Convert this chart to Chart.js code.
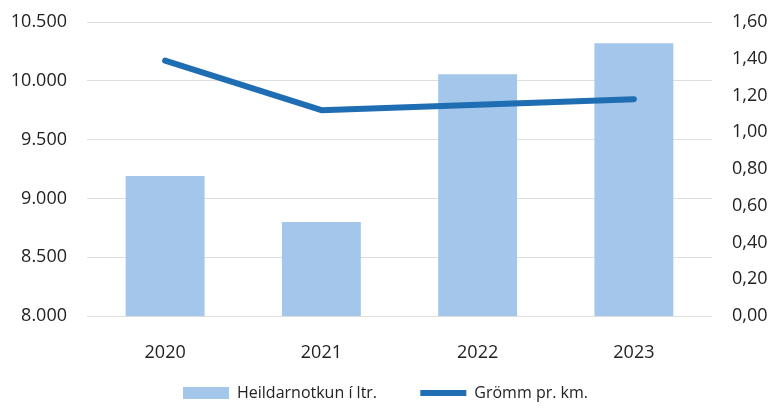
<!DOCTYPE html>
<html>
<head>
<meta charset="utf-8">
<script src="https://cdn.jsdelivr.net/npm/chart.js@4"></script>
<style>
  html, body { margin: 0; padding: 0; background: #fff; }
  #wrap { width: 771px; height: 411px; }
</style>
</head>
<body>
<div id="wrap"><canvas id="chart"></canvas></div>
<script>
// Data
const years = ['2020', '2021', '2022', '2023'];
const totalLitres = [9190, 8800, 10055, 10320];   // Heildarnotkun í ltr. (left axis)
const gramsPerKm = [1.39, 1.12, 1.15, 1.18];       // Grömm pr. km. (right axis)
const barLabel = 'Heildarnotkun í ltr.';
const lineLabel = 'Grömm pr. km.';

const fmtLeft = v => v.toLocaleString('de-DE');
const fmtRight = v => v.toFixed(2).replace('.', ',');

Chart.defaults.font.family = "'Open Sans', 'Noto Sans', sans-serif";
Chart.defaults.color = '#222';

// fix the axis sizes so the plot area sits where it does in the picture
const fitSide = w => scale => {
    scale.width = w;
    scale.paddingTop = 10;
    scale.paddingBottom = 10;
};

const defaultLabels = Chart.defaults.plugins.legend.labels.generateLabels;

new Chart(document.getElementById('chart').getContext('2d'), {
    data: {
        labels: years,
        datasets: [
            {
                type: 'line',
                label: lineLabel,
                data: gramsPerKm,
                yAxisID: 'y2',
                borderColor: '#1f6db3',
                backgroundColor: '#1f6db3',
                borderWidth: 6,
                borderCapStyle: 'round',
                borderJoinStyle: 'round',
                pointRadius: 0,
                tension: 0,
                pointStyle: 'line',
                order: 0
            },
            {
                type: 'bar',
                label: barLabel,
                data: totalLitres,
                yAxisID: 'y',
                backgroundColor: '#a3c6ea',
                borderWidth: 0,
                categoryPercentage: 1,
                barPercentage: 0.505,
                pointStyle: 'rect',
                order: 1
            }
        ]
    },
    options: {
        responsive: true,
        maintainAspectRatio: false,
        animation: false,
        layout: { padding: { left: 0, right: 0, top: 22, bottom: 0 } },
        scales: {
            x: {
                grid: { display: false, drawTicks: false },
                border: { display: false },
                ticks: { font: { size: 18 }, padding: 26, color: '#222' },
                afterFit: s => { s.height = 59; s.paddingLeft = 0; s.paddingRight = 0; }
            },
            y: {
                position: 'left',
                min: 8000,
                max: 10500,
                z: 1,
                border: { display: false },
                grid: { color: 'rgba(0, 0, 0, 0.13)', lineWidth: 1, drawTicks: false },
                ticks: {
                    stepSize: 500,
                    font: { size: 18 },
                    padding: 20,
                    color: '#222',
                    callback: v => fmtLeft(v)
                },
                afterFit: fitSide(87)
            },
            y2: {
                position: 'right',
                min: 0,
                max: 1.6,
                border: { display: false },
                grid: { display: false, drawTicks: false },
                ticks: {
                    stepSize: 0.2,
                    font: { size: 18 },
                    padding: 20,
                    color: '#222',
                    callback: v => fmtRight(v)
                },
                afterFit: fitSide(59)
            }
        },
        plugins: {
            legend: {
                position: 'bottom',
                reverse: true,
                labels: {
                    usePointStyle: true,
                    pointStyleWidth: 46,
                    boxHeight: 12,
                    padding: 10,
                    font: { size: 16 },
                    color: '#222',
                    // wider gap after the first entry, as in the picture
                    generateLabels: chart => defaultLabels(chart).map(item =>
                        item.text === barLabel ? { ...item, text: item.text + '        ' } : item)
                }
            },
            tooltip: { enabled: false }
        }
    }
});
</script>
</body>
</html>
